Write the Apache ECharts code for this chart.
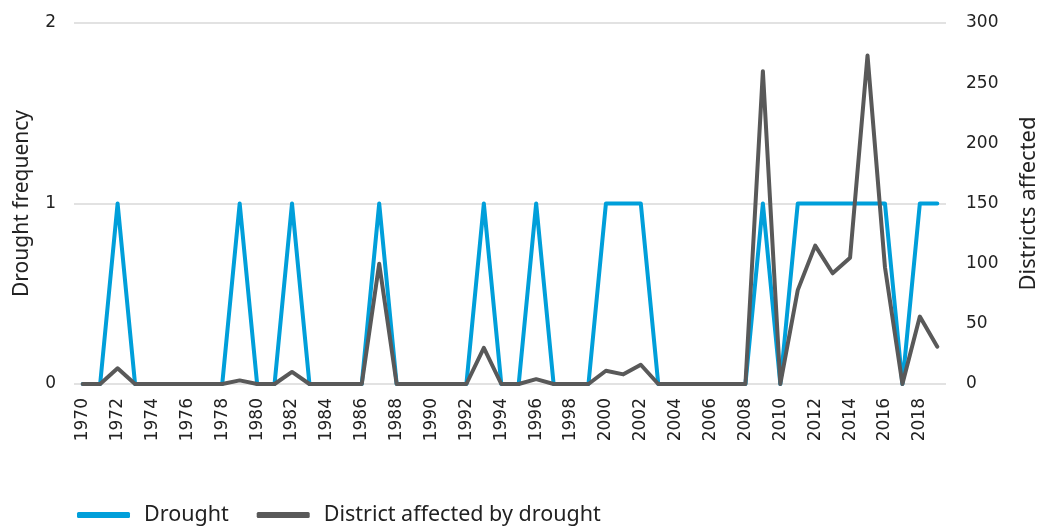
<!DOCTYPE html>
<html>
<head>
<meta charset="utf-8">
<script src="https://cdn.jsdelivr.net/npm/echarts@6/dist/echarts.min.js"></script>
<style>
  html, body { margin: 0; padding: 0; background: #fff; }
  #chart { width: 1037px; height: 531px; }
</style>
</head>
<body>
<div id="chart"></div>
<script>
// years 1970..2019
const years = [];
for (let y = 1970; y <= 2019; y++) years.push(String(y));

// drought occurrence (0/1) per year
const drought = [
  0, 0, 1, 0, 0, 0, 0, 0, 0, 1,
  0, 0, 1, 0, 0, 0, 0, 1, 0, 0,
  0, 0, 0, 1, 0, 0, 1, 0, 0, 0,
  1, 1, 1, 0, 0, 0, 0, 0, 0, 1,
  0, 1, 1, 1, 1, 1, 1, 0, 1, 1
];

// number of districts affected per year
const districts = [
  0, 0, 13, 0, 0, 0, 0, 0, 0, 3,
  0, 0, 10, 0, 0, 0, 0, 100, 0, 0,
  0, 0, 0, 30, 0, 0, 4, 0, 0, 0,
  11, 8, 16, 0, 0, 0, 0, 0, 0, 260,
  0, 78, 115, 92, 105, 273, 97, 0, 56, 31
];

const leftTicks = [0, 1, 2];
const rightTicks = [0, 50, 100, 150, 200, 250, 300];

const blue = "#009fda";
const grey = "#595959";
const font = "Noto Sans";
const tickFont = "DejaVu Sans";

const chart = echarts.init(document.getElementById("chart"));

const option = {
  animation: false,
  textStyle: {fontFamily: font},
  grid: {left: 74, right: 91, top: 23, bottom: 147, outerBoundsMode: "none"},
  legend: {
    left: 72,
    bottom: 0,
    itemWidth: 53,
    itemHeight: 6,
    itemGap: 28,
    icon: "roundRect",
    textStyle: {fontSize: 21.5, color: "#222", fontFamily: font, padding: [0, 0, 0, 9]},
    data: ["Drought", "District affected by drought"],
  },
  xAxis: {
    type: "category",
    data: years,
    boundaryGap: true,
    axisLine: {show: false},
    axisTick: {show: false},
    axisLabel: {
      interval: 1,
      rotate: 90,
      color: "#222",
      fontSize: 17,
      fontFamily: tickFont,
      margin: 14,
    },
  },
  yAxis: [
    {
      type: "value",
      min: leftTicks[0],
      max: leftTicks[leftTicks.length - 1],
      interval: 1,
      name: "Drought frequency",
      nameLocation: "middle",
      nameGap: 41,
      nameTextStyle: {fontSize: 21, color: "#222"},
      axisLabel: {fontSize: 17, color: "#222", margin: 18, fontFamily: tickFont},
      splitLine: {lineStyle: {color: "#d9d9d9", width: 1.5}},
      axisLine: {show: false},
      axisTick: {show: false},
    },
    {
      type: "value",
      min: rightTicks[0],
      max: rightTicks[rightTicks.length - 1],
      interval: 50,
      name: "Districts affected",
      nameLocation: "middle",
      nameGap: 72,
      nameRotate: 90,
      nameTextStyle: {fontSize: 22, color: "#222"},
      axisLabel: {fontSize: 17, color: "#222", margin: 20, fontFamily: tickFont},
      splitLine: {show: false},
      axisLine: {show: false},
      axisTick: {show: false},
    },
  ],
  series: [
    {
      name: "Drought",
      type: "line",
      yAxisIndex: 0,
      data: drought,
      showSymbol: false,
      symbol: "none",
      color: blue,
      lineStyle: {width: 4, color: blue, cap: "round", join: "round"},
    },
    {
      name: "District affected by drought",
      type: "line",
      yAxisIndex: 1,
      data: districts,
      showSymbol: false,
      symbol: "none",
      color: grey,
      lineStyle: {width: 4, color: grey, cap: "round", join: "round"},
    },
  ],
};

chart.setOption(option);
</script>
</body>
</html>
